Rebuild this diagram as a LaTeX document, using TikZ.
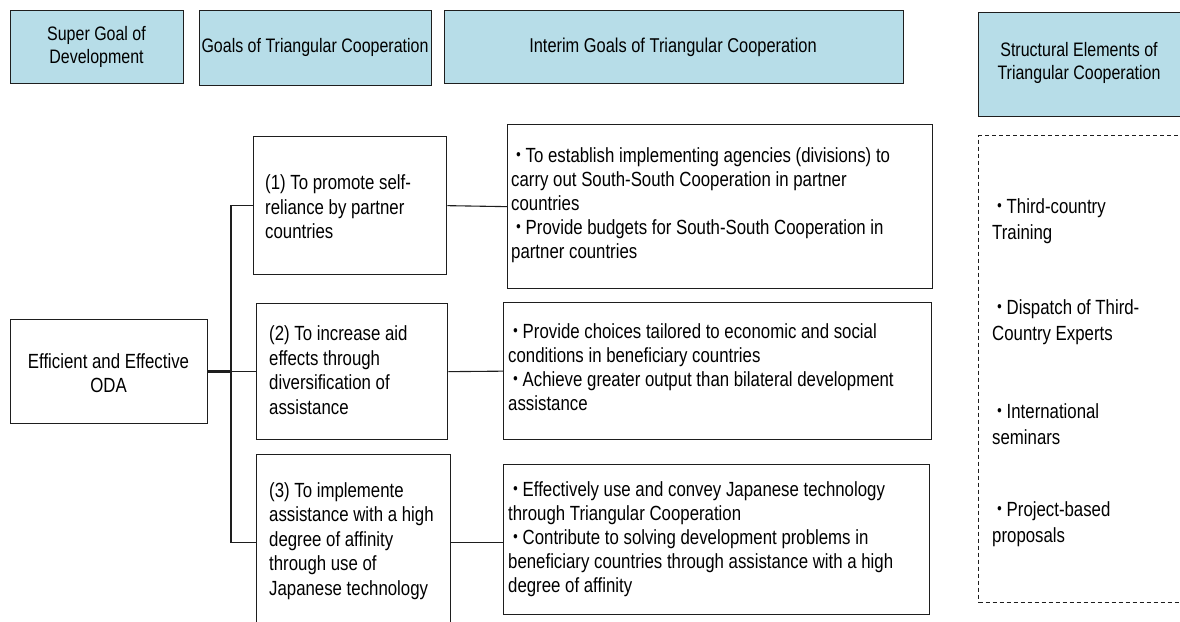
\documentclass[tikz,border=0pt]{standalone}
\usepackage{fontspec}
\setmainfont{Liberation Sans}[FakeStretch=0.82]
\newfontfamily\cjkdot{Noto Sans CJK JP}[FakeStretch=0.82]
\newcommand{\bul}{\makebox[14.5pt][c]{\cjkdot ・}}
\definecolor{hdrblue}{RGB}{183,221,232}
\definecolor{edge}{RGB}{30,30,30}
\begin{document}
\begin{tikzpicture}[x=1pt,y=-1pt,
  hdr/.style={draw=edge, line width=1.4pt, fill=hdrblue, inner sep=0pt, anchor=north west},
  box/.style={draw=edge, line width=1.3pt, inner sep=0pt, anchor=north west},
  dbox/.style={draw=edge, line width=1.1pt, dash pattern=on 4pt off 3pt, inner sep=0pt, anchor=north west},
  conn/.style={draw=edge, line width=1.1pt},
  hdrtxt/.style={inner sep=0pt, align=center, font=\fontsize{19.5}{23.5}\selectfont},
  gtxt/.style={inner sep=0pt, align=left, anchor=west, font=\fontsize{20.5}{24.5}\selectfont},
  itxt/.style={inner sep=0pt, align=left, anchor=west, font=\fontsize{20.5}{24}\selectfont},
  stxt/.style={inner sep=0pt, align=left, anchor=west, font=\fontsize{20.5}{26}\selectfont},
  ctxt/.style={inner sep=0pt, align=center, font=\fontsize{20.5}{24.5}\selectfont}]
\useasboundingbox (0,0) rectangle (1180,621);

% column headers
\node[hdr, minimum width=173pt, minimum height=73pt] (h1) at (10,10) {};
\node[hdr, minimum width=232pt, minimum height=75pt] (h2) at (199,10) {};
\node[hdr, minimum width=459pt, minimum height=73pt] (h3) at (444,10) {};
\node[hdr, minimum width=230pt, minimum height=104pt] (h4) at (978,12) {};
\node[hdrtxt] (h1t) at (96.5,47) {Super Goal of\\Development};
\node[hdrtxt] (h2t) at (315,47) {Goals of Triangular Cooperation};
\node[hdrtxt, font=\fontsize{20}{24}\selectfont] (h3t) at (673,47) {Interim Goals of Triangular Cooperation};
\node[hdrtxt] (h4t) at (1079,63) {Structural Elements of\\Triangular Cooperation};

% super goal
\node[box, minimum width=197pt, minimum height=104pt] (oda) at (10,319) {};
\node[ctxt] (odat) at (108.5,373) {Efficient and Effective\\ODA};

% goals
\node[box, minimum width=193pt, minimum height=138pt] (g1) at (253,136) {};
\node[box, minimum width=191pt, minimum height=136pt] (g2) at (256,303) {};
\node[box, minimum width=194pt, minimum height=175pt] (g3) at (256,454) {};
\node[gtxt] (g1t) at (265,207) {(1) To promote self-\\reliance by partner\\countries};
\node[gtxt] (g2t) at (269,370) {(2) To increase aid\\effects through\\diversification of\\assistance};
\node[gtxt] (g3t) at (269,541) {(3) To implemente\\assistance with a high\\degree of affinity\\through use of\\Japanese technology};

% interim goals
\node[box, minimum width=425pt, minimum height=164pt] (i1) at (507,124) {};
\node[box, minimum width=428pt, minimum height=137pt] (i2) at (503,302) {};
\node[box, minimum width=426pt, minimum height=150pt] (i3) at (503,464) {};
\node[itxt] (i1t) at (511,205) {\bul To establish implementing agencies (divisions) to\\carry out South-South Cooperation in partner\\countries\\\bul Provide budgets for South-South Cooperation in\\partner countries};
\node[itxt] (i2t) at (508,367) {\bul Provide choices tailored to economic and social\\conditions in beneficiary countries\\\bul Achieve greater output than bilateral development\\assistance};
\node[itxt] (i3t) at (508,539) {\bul Effectively use and convey Japanese technology\\through Triangular Cooperation\\\bul Contribute to solving development problems in\\beneficiary countries through assistance with a high\\degree of affinity};

% structural elements
\node[dbox, minimum width=230pt, minimum height=467pt] (se) at (978,135) {};
\node[stxt] (s1) at (992,221) {\bul Third-country\\Training};
\node[stxt] (s2) at (992,322) {\bul Dispatch of Third-\\Country Experts};
\node[stxt] (s3) at (992,424) {\bul International\\seminars};
\node[stxt] (s4) at (992,524) {\bul Project-based\\proposals};

% connectors
\coordinate (bus) at (231,0);
\draw[conn, line width=2.4pt] (oda.east) -- (oda.east -| bus);
\draw[conn] (g1.west) -- (g1.west -| bus) -- (g3.west -| bus) -- (g3.west);
\draw[conn] (g2.west -| bus) -- (g2.west);
\draw[conn] (g1.east) -- (i1.west);
\draw[conn] (g2.east) -- (i2.west);
\draw[conn] (g3.east) -- (g3.east -| i3.west);
\end{tikzpicture}
\end{document}
